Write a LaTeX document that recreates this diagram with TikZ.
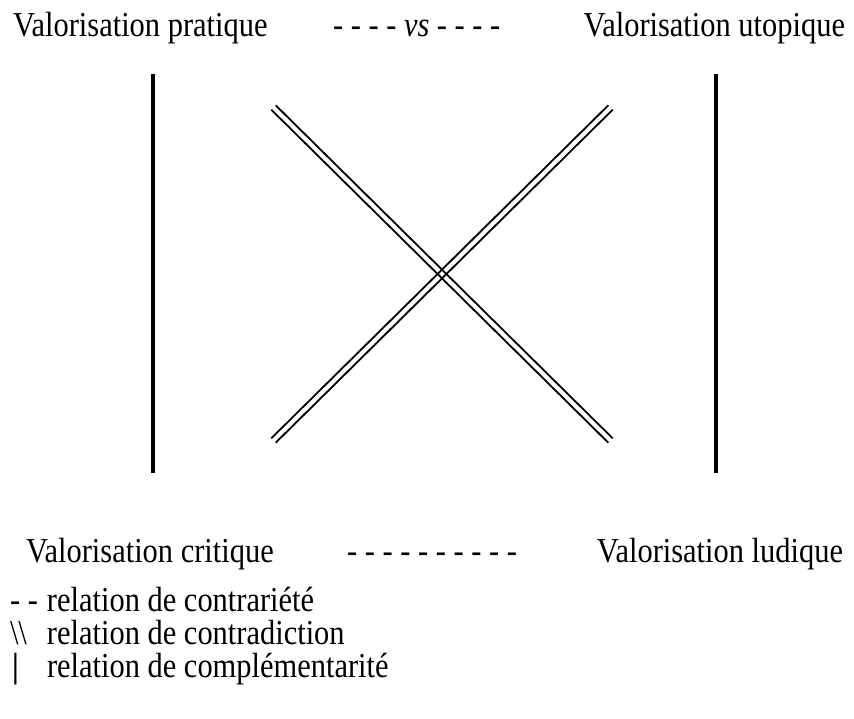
\documentclass[tikz,border=0pt]{standalone}
\usepackage{fontspec}
\setmainfont{Liberation Serif}[FakeStretch=0.87]
\begin{document}
\begin{tikzpicture}[x=1pt,y=-1pt,
  lab/.style={inner sep=0pt, outer sep=0pt, font=\fontsize{35}{29.5}\selectfont},
  compl/.style={line width=4pt},
  strand/.style={line width=1.8pt, line cap=butt}]
\useasboundingbox (0,0) rectangle (854,719);
% labels
\node[lab, anchor=base west] (pratique) at (13,37) {Valorisation pratique};
\node[lab, anchor=base west] (vs) at (333,37) {- - - - \textit{vs} - - - -};
\node[lab, anchor=base east] (utopique) at (845,37) {Valorisation utopique};
\node[lab, anchor=base west] (critique) at (26,562) {Valorisation critique};
\node[lab, anchor=base west] (contr) at (347,562) {- - - - - - - - - -};
\node[lab, anchor=base east] (ludique) at (843,562) {Valorisation ludique};
% vertical lines (complementarity)
\coordinate (L1) at (152.7,74);
\coordinate (L2) at (152.7,473);
\coordinate (R1) at (716,74);
\coordinate (R2) at (716,473);
\draw[compl] (L1) -- (L2);
\draw[compl] (R1) -- (R2);
% diagonals (contradiction), drawn as two strands each
\coordinate (TL) at (273.5,107.5);
\coordinate (BR) at (610.5,440.5);
\coordinate (TR) at (610.5,107.5);
\coordinate (BL) at (273.5,440.5);
\foreach \s in {1,-1}{
  \draw[strand] ([shift={(2.2*\s,-2.2*\s)}]TL) -- ([shift={(2.2*\s,-2.2*\s)}]BR);
  \draw[strand] ([shift={(2.2*\s,2.2*\s)}]TR) -- ([shift={(2.2*\s,2.2*\s)}]BL);
}
% legend
\node[lab, anchor=base west] (legend) at (10,611) {%
  \begin{tabular}[t]{@{}l@{}l@{}}
  \makebox[37pt][l]{- -}\hspace{-6pt} & relation de contrariété\\
  \makebox[37pt][l]{\textbackslash\textbackslash} & relation de contradiction\\
  \makebox[37pt][l]{\hspace{2pt}\textbf{|}} & relation de complémentarité
  \end{tabular}};
\end{tikzpicture}
\end{document}
